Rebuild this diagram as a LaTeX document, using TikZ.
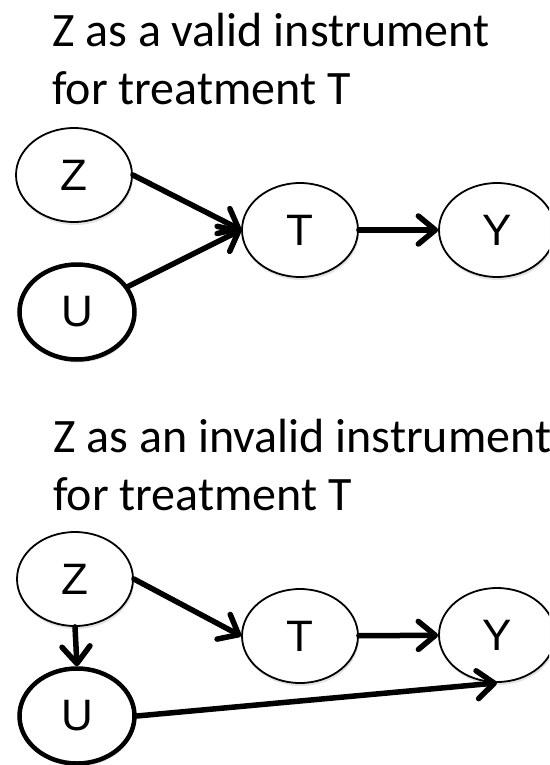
\documentclass[tikz,border=0pt]{standalone}
\usepackage{fontspec}
\setmainfont{Carlito}
\newfontfamily\nodefont{Liberation Sans}
\usetikzlibrary{arrows.meta,shapes.geometric,shadows}
\begin{document}
\begin{tikzpicture}[x=1pt,y=-1pt,
  title/.style={anchor=base west, inner sep=0pt, font=\fontsize{48}{58}\selectfont},
  var/.style={ellipse, draw, fill=white, line width=1.8pt, minimum width=116pt,
    minimum height=94pt, inner sep=0pt, font=\nodefont\fontsize{44}{50}\selectfont,
    drop shadow={shadow xshift=1pt, shadow yshift=-3pt, opacity=0.22}},
  latent/.style={var, line width=4.5pt, minimum width=115pt, minimum height=95pt},
  edge/.style={line width=5.5pt, line cap=round, line join=round,
    -{Straight Barb[length=17pt,width=28pt,line cap=round,line join=round]}}]
\useasboundingbox (0,0) rectangle (549,765);
\clip (0,0) rectangle (549,765);
% top diagram
\node[title] (t1a) at (52,47) {Z as a valid instrument};
\node[title] (t1b) at (52,105) {for treatment T};
\node[var] (Z1) at (74,175) {Z};
\node[latent] (U1) at (77,312) {U};
\node[var] (T1) at (300,230) {T};
\node[var] (Y1) at (497,230) {Y};
\draw[edge] (Z1.east) -- (T1.west);
\draw[edge] (U1) -- (T1.west);
\draw[edge] (T1) -- (Y1);
% bottom diagram
\node[title] (t2a) at (53,452) {Z as an invalid instrument};
\node[title] (t2b) at (53,510) {for treatment T};
\node[var] (Z2) at (75,579) {Z};
\node[latent] (U2) at (77,716) {U};
\node[var] (T2) at (300,636) {T};
\node[var] (Y2) at (497,635) {Y};
\draw[edge] (Z2.east) -- (T2.west);
\draw[edge] (T2) -- (Y2);
\draw[edge] (Z2.south) -- (U2.north);
\draw[edge] (U2.east) -- (Y2.south);
\end{tikzpicture}
\end{document}
